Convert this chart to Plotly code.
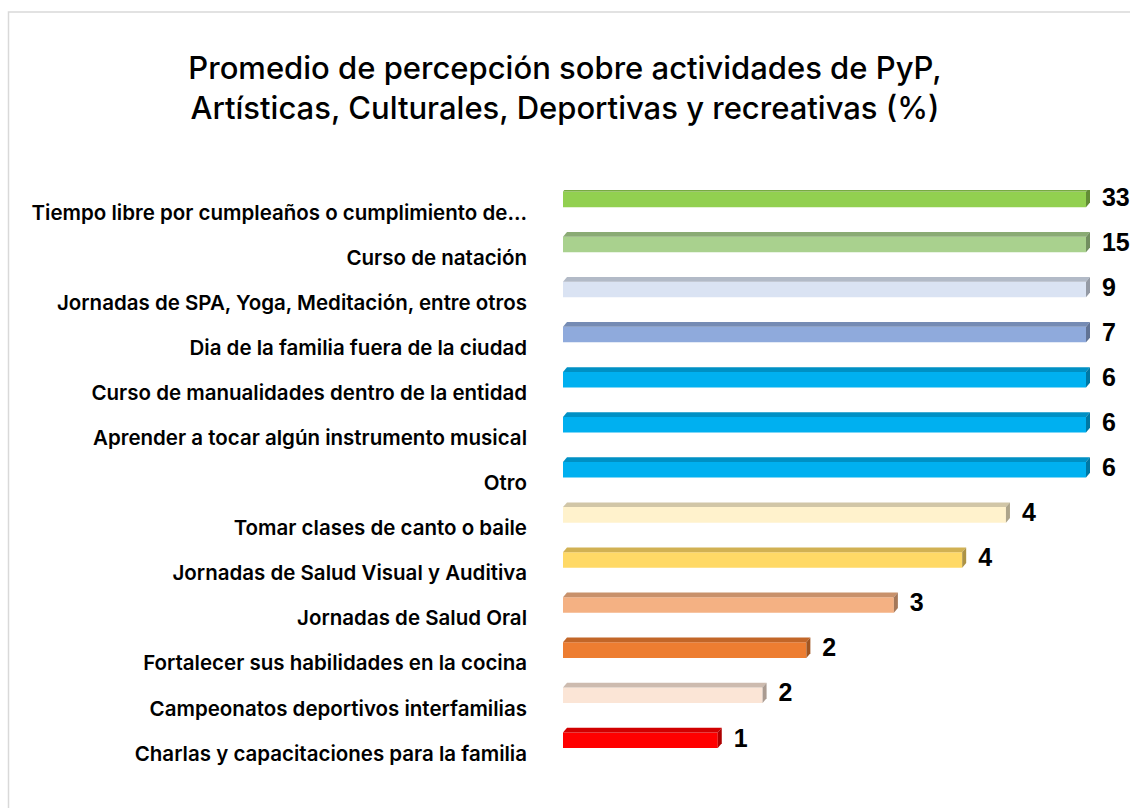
import plotly.graph_objects as go

categories = [
    "Tiempo libre por cumpleaños o cumplimiento de...",
    "Curso de natación",
    "Jornadas de SPA, Yoga, Meditación, entre otros",
    "Dia de la familia fuera de la ciudad",
    "Curso de manualidades dentro de la entidad",
    "Aprender a tocar algún instrumento musical",
    "Otro",
    "Tomar clases de canto o baile",
    "Jornadas de Salud Visual y Auditiva",
    "Jornadas de Salud Oral",
    "Fortalecer sus habilidades en la cocina",
    "Campeonatos deportivos interfamilias",
    "Charlas y capacitaciones para la familia",
]
values = [33, 15, 9, 7, 6, 6, 6, 4.15, 3.74, 3.10, 2.28, 1.87, 1.45]
value_labels = ["33", "15", "9", "7", "6", "6", "6", "4", "4", "3", "2", "2", "1"]
colors = ["#92D050", "#A9D18E", "#DAE3F3", "#8FAADC", "#00B0F0", "#00B0F0", "#00B0F0",
          "#FFF2CC", "#FFD966", "#F4B183", "#ED7D31", "#FBE5D6", "#FF0000"]

W, H = 1130, 808
ML, MR, MT, MB = 563, 20, 190, 32
CAP = 4.9
PX_PER_UNIT = 523 / CAP
XR = (W - ML - MR) / PX_PER_UNIT
DX = 4 / PX_PER_UNIT          # 3D depth in x units
GAP = 5 / PX_PER_UNIT         # gap before value labels
F0, F1 = -0.465, -0.12        # front face (category units, relative)
DY = 0.105                    # 3D depth in category units

def shade(hexc, f):
    r, g, b = int(hexc[1:3], 16), int(hexc[3:5], 16), int(hexc[5:7], 16)
    return "#%02x%02x%02x" % (int(r * f), int(g * f), int(b * f))

idx = list(range(len(categories)))
shown = [min(v, CAP) for v in values]

fig = go.Figure()
fig.add_trace(go.Bar(
    y=idx, x=shown, orientation="h",
    offset=F0, width=F1 - F0,
    marker=dict(color=colors, line=dict(width=0)),
    customdata=values, hovertemplate="%{customdata}<extra></extra>",
))

shapes = []
for i, xe, c in zip(idx, shown, colors):
    top = shade(c, 0.82)
    side = shade(c, 0.68)
    shapes.append(dict(
        type="path", xref="x", yref="y", layer="above", line=dict(width=0), fillcolor=top,
        path=f"M 0 {i+F0} L {DX} {i+F0-DY} L {xe+DX} {i+F0-DY} L {xe} {i+F0} Z"))
    shapes.append(dict(
        type="path", xref="x", yref="y", layer="above", line=dict(width=0), fillcolor=side,
        path=f"M {xe} {i+F0} L {xe+DX} {i+F0-DY} L {xe+DX} {i+F1-DY} L {xe} {i+F1} Z"))

pw, ph = W - ML - MR, H - MT - MB
def px_x(p):
    return (p - ML) / pw
def px_y(p):
    return 1 - (p - MT) / ph
shapes.append(dict(type="rect", xref="paper", yref="paper",
                   x0=px_x(8.5), x1=px_x(W + 20), y0=px_y(12), y1=px_y(H + 20),
                   line=dict(color="#d9d9d9", width=1.5), fillcolor="rgba(0,0,0,0)", layer="below"))

fig.add_trace(go.Scatter(
    y=[i + (F0 + F1) / 2 for i in idx], x=[s + DX + GAP for s in shown],
    mode="text", text=value_labels, textposition="middle right",
    textfont=dict(family="Liberation Sans, Arial, sans-serif", size=25, color="black"),
    texttemplate="<b> %{text}</b>", cliponaxis=False, hoverinfo="skip",
))

fig.update_layout(
    width=W, height=H,
    margin=dict(l=ML, r=MR, t=MT, b=MB),
    paper_bgcolor="white", plot_bgcolor="white",
    showlegend=False,
    title=dict(
        text="Promedio de percepción sobre actividades de PyP,<br>Artísticas, Culturales, Deportivas y recreativas (%)",
        x=(W / 2 - ML) / pw, xref="paper", xanchor="center", y=1 - 79 / H, yanchor="middle",
        font=dict(family="Inter, Liberation Sans, Arial, sans-serif", size=31, color="black", weight=500),
    ),
    xaxis=dict(range=[0, XR], visible=False, fixedrange=True),
    yaxis=dict(range=[len(categories) - 0.5, -0.5], tickmode="array", tickvals=idx, ticktext=categories,
               showgrid=False, zeroline=False, showline=False, ticks="",
               ticklabelstandoff=35,
               tickfont=dict(family="Inter, Liberation Sans, Arial, sans-serif", size=20.5, color="black", weight=600)),
    shapes=shapes,
)

fig.write_html("out.html", config={"displayModeBar": False},
               post_script="document.body.style.margin='0';document.body.style.overflow='hidden';"
                           "document.documentElement.style.overflow='hidden';")
